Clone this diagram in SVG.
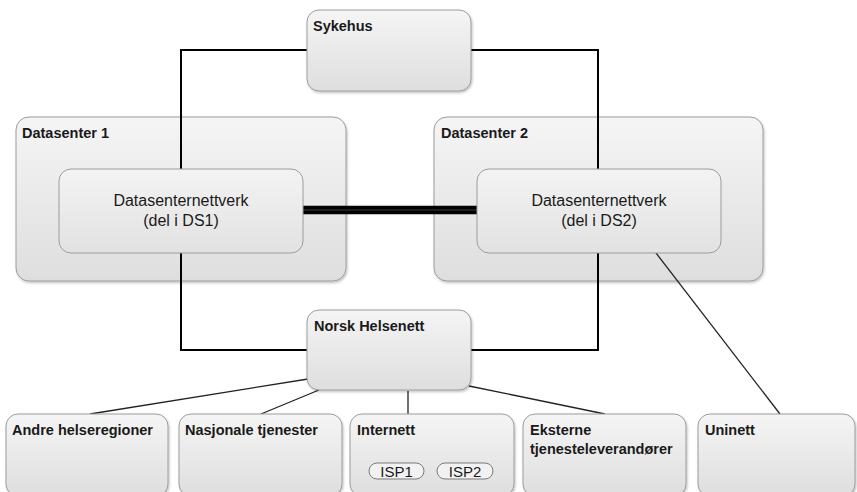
<svg xmlns="http://www.w3.org/2000/svg" width="857" height="492" viewBox="0 0 857 492">
<defs>
<linearGradient id="g" x1="0" y1="0" x2="0" y2="1">
<stop offset="0" stop-color="#f5f5f5"/>
<stop offset="1" stop-color="#dedede"/>
</linearGradient>
<linearGradient id="g2" x1="0" y1="0" x2="0" y2="1">
<stop offset="0" stop-color="#f3f3f3"/>
<stop offset="1" stop-color="#e2e2e2"/>
</linearGradient>
<filter id="sh" x="-5%" y="-5%" width="110%" height="115%">
<feDropShadow dx="1" dy="1.5" stdDeviation="1.2" flood-color="#000" flood-opacity="0.25"/>
</filter>
</defs>
<style>
.box{fill:url(#g);stroke:#9c9c9c;stroke-width:1;filter:url(#sh)}
.inner{fill:url(#g2);stroke:#9c9c9c;stroke-width:1}
.pill{fill:#f2f2f2;stroke:#7a7a7a;stroke-width:1}
.t{font-family:"Liberation Sans",Arial,sans-serif;font-size:14.5px;font-weight:bold;fill:#1a1a1a}
.n{font-family:"Liberation Sans",Arial,sans-serif;font-size:16px;fill:#1a1a1a}
.s{font-family:"Liberation Sans",Arial,sans-serif;font-size:15px;fill:#1a1a1a}
.c{fill:none;stroke:#000;stroke-width:2}
.c1{fill:none;stroke:#222;stroke-width:1.3}
</style>
<g id="ds1">
<rect class="box" x="16" y="117" width="330" height="164" rx="13"/>
<text class="t" x="22" y="138">Datasenter 1</text>
</g>
<g id="ds2">
<rect class="box" x="434" y="117" width="329" height="164" rx="13"/>
<text class="t" x="441" y="138">Datasenter 2</text>
</g>
<g id="connectors">
<polyline class="c" points="307,50 181,50 181,169"/>
<polyline class="c" points="471,50 598,50 598,169"/>
<polyline class="c" points="181,253 181,350 307,350"/>
<polyline class="c" points="598,253 598,350 471,350"/>
<line x1="303" y1="210" x2="477" y2="210" stroke="#000" stroke-width="8.5"/>
<line x1="303" y1="210" x2="477" y2="210" stroke="#3a3a3a" stroke-width="1"/>
<line class="c1" x1="656" y1="253" x2="780" y2="414"/>
<line class="c1" x1="308" y1="379" x2="90" y2="414"/>
<line class="c1" x1="319" y1="390" x2="261" y2="414"/>
<line class="c1" x1="408" y1="391" x2="408" y2="414"/>
<line class="c1" x1="469" y1="386" x2="605" y2="414"/>
</g>
<g id="sykehus">
<rect class="box" x="307" y="10" width="164" height="81" rx="12"/>
<text class="t" x="313" y="31">Sykehus</text>
</g>
<g id="dsnett1">
<rect class="inner" x="59" y="169" width="244" height="84" rx="12"/>
<text class="n" x="181" y="205.5" text-anchor="middle">Datasenternettverk</text>
<text class="n" x="181" y="225.5" text-anchor="middle">(del i DS1)</text>
</g>
<g id="dsnett2">
<rect class="inner" x="477" y="169" width="244" height="84" rx="12"/>
<text class="n" x="599" y="205.5" text-anchor="middle">Datasenternettverk</text>
<text class="n" x="599" y="225.5" text-anchor="middle">(del i DS2)</text>
</g>
<g id="norsk">
<rect class="box" x="307" y="310" width="164" height="80" rx="12"/>
<text class="t" x="314" y="331">Norsk Helsenett</text>
</g>
<g id="andre">
<rect class="box" x="6" y="414" width="162" height="82" rx="12"/>
<text class="t" x="12" y="435">Andre helseregioner</text>
</g>
<g id="nasjonale">
<rect class="box" x="179" y="414" width="163" height="82" rx="12"/>
<text class="t" x="185" y="435">Nasjonale tjenester</text>
</g>
<g id="internett">
<rect class="box" x="350" y="414" width="164" height="82" rx="12"/>
<text class="t" x="357" y="435">Internett</text>
<g id="isp1">
<rect class="pill" x="369" y="463" width="55" height="16" rx="8"/>
<text class="s" x="396.5" y="476.5" text-anchor="middle">ISP1</text>
</g>
<g id="isp2">
<rect class="pill" x="437" y="463" width="56" height="16" rx="8"/>
<text class="s" x="465" y="476.5" text-anchor="middle">ISP2</text>
</g>
</g>
<g id="eksterne">
<rect class="box" x="523" y="414" width="163" height="82" rx="12"/>
<text class="t" x="530" y="435">Eksterne</text>
<text class="t" x="530" y="454">tjenesteleverandører</text>
</g>
<g id="uninett">
<rect class="box" x="698" y="414" width="157" height="82" rx="12"/>
<text class="t" x="705" y="435">Uninett</text>
</g>
</svg>
